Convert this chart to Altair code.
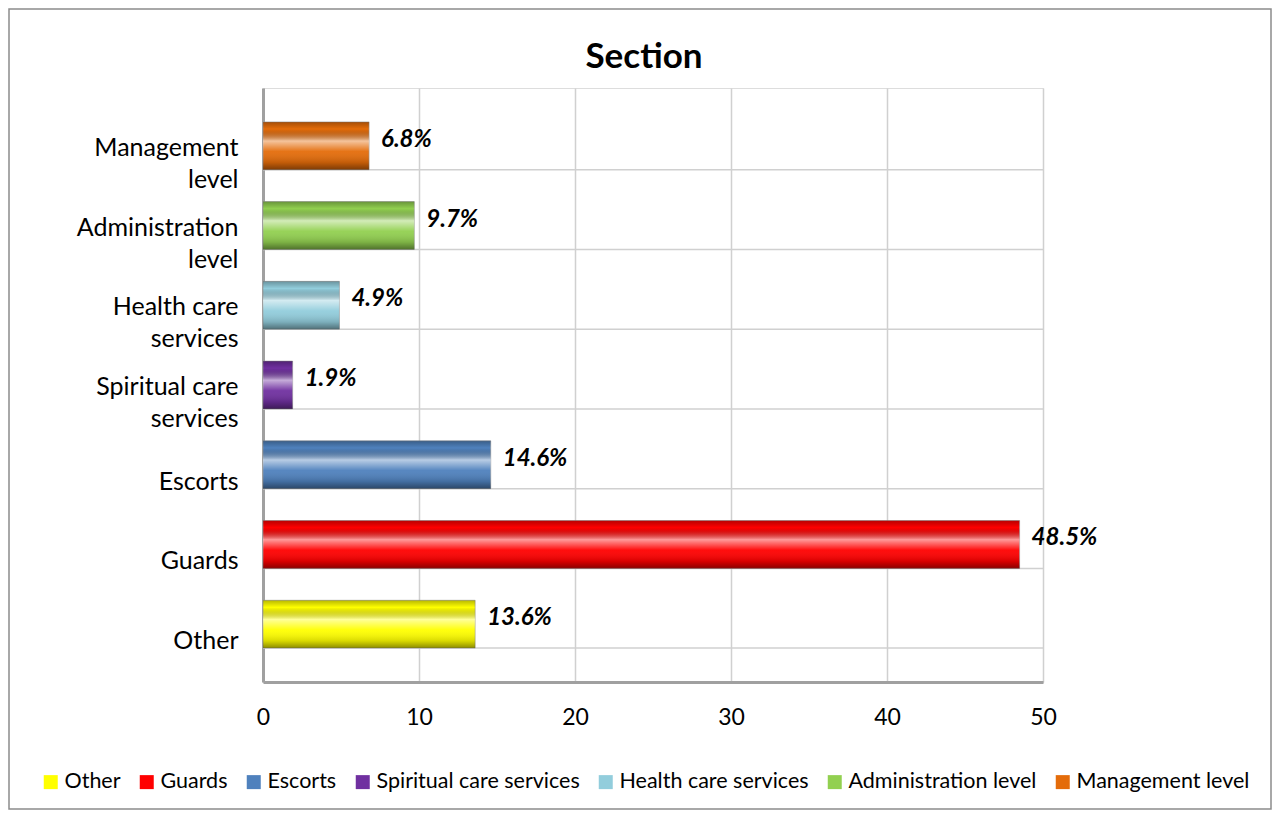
import altair as alt
import pandas as pd

# ---- data ----
categories = ["Management level", "Administration level", "Health care services",
              "Spiritual care services", "Escorts", "Guards", "Other"]
axis_lines = [["Management", "level"], ["Administration", "level"], ["Health care", "services"],
              ["Spiritual care", "services"], ["Escorts"], ["Guards"], ["Other"]]
values = [6.8, 9.7, 4.9, 1.9, 14.6, 48.5, 13.6]
legend_order = ["Other", "Guards", "Escorts", "Spiritual care services",
                "Health care services", "Administration level", "Management level"]
legend_colors = ["#ffff00", "#ff0000", "#4f81bd", "#7030a0", "#92cddc", "#92d050", "#e46c0a"]
x_ticks = [0, 10, 20, 30, 40, 50]

df = pd.DataFrame({"Section": categories, "Value": values})
df["Label"] = [f"{v:.1f}%" for v in values]

W, H = 780, 594
FONT = "Lato"

# label expression for two-line y labels
parts = []
multi = []
for c, lines in zip(categories, axis_lines):
    arr = "[" + ",".join(f"'{l}'" for l in lines) + "]"
    parts.append(f"datum.value == '{c}' ? {arr} : ")
    if len(lines) > 1:
        multi.append(f"datum.value == '{c}'")
label_expr = "".join(parts) + "datum.value"
multi_test = " || ".join(multi)

y_enc = alt.Y("Section:N", sort=categories,
              scale=alt.Scale(paddingInner=0.4, paddingOuter=0.425),
              axis=alt.Axis(title=None, labelExpr=label_expr, labelFontSize=25,
                            labelLineHeight=32,
                            labelOffset={"condition": {"test": multi_test, "value": 2},
                                         "value": 17},
                            labelPadding=25,
                            ticks=False, tickSize=0, grid=False, domainColor="#a0a0a0",
                            domainWidth=3, labelColor="#000000", labelFont=FONT,
                            labelLimit=300))
x_enc = alt.X("Value:Q", scale=alt.Scale(domain=[0, 50], nice=False),
              axis=alt.Axis(title=None, values=x_ticks, labelFontSize=23, ticks=False,
                            tickSize=0, labelPadding=24, labelFlush=False, grid=True,
                            gridColor="#d0d0d0", gridWidth=1.5, domainColor="#a0a0a0",
                            domainWidth=3, labelColor="#000000", labelFont=FONT))

base = alt.Chart(df)

hgrid = base.mark_rule(color="#d0d0d0", strokeWidth=1.5).encode(
    y=alt.Y("Section:N", sort=categories, bandPosition=1),
    x=alt.value(0), x2=alt.value(W))

bars = base.mark_bar(stroke="#9a9a9a", strokeWidth=0.6).encode(
    x=x_enc, y=y_enc,
    color=alt.Color("Section:N",
                    scale=alt.Scale(domain=legend_order, range=legend_colors),
                    legend=alt.Legend(title=None, orient="none", direction="horizontal",
                                      legendX=-223, legendY=683, symbolType="square",
                                      symbolSize=196, symbolStrokeWidth=0,
                                      labelFontSize=21.5, labelFont=FONT, labelColor="#000000",
                                      columnPadding=15, labelOffset=3, columns=7,
                                      labelLimit=400)))

shade = base.mark_bar(fill=alt.Gradient(
    gradient="linear", x1=0, x2=0, y1=0, y2=1,
    stops=[alt.GradientStop(color="rgba(0,0,0,0.28)", offset=0),
           alt.GradientStop(color="rgba(0,0,0,0.0)", offset=0.15),
           alt.GradientStop(color="rgba(255,255,255,0.6)", offset=0.4),
           alt.GradientStop(color="rgba(255,255,255,0.05)", offset=0.62),
           alt.GradientStop(color="rgba(0,0,0,0.15)", offset=0.85),
           alt.GradientStop(color="rgba(0,0,0,0.45)", offset=1)])).encode(
    x="Value:Q", y=alt.Y("Section:N", sort=categories))

labels = base.mark_text(align="left", baseline="middle", dx=12, dy=-6, fontSize=24,
                        fontWeight="bold", fontStyle="italic", font=FONT,
                        color="#000000").encode(
    x="Value:Q", y=alt.Y("Section:N", sort=categories), text="Label:N")

frame = alt.Chart(alt.Data(values=[{}])).mark_rect(
    fill=None, stroke="#8c8c8c", strokeWidth=1.5).encode(
    x=alt.value(-254), x2=alt.value(1008), y=alt.value(-79), y2=alt.value(721))

chart = alt.layer(hgrid, bars, shade, labels, frame).properties(
    width=W, height=H,
    title=alt.TitleParams("Section", fontSize=35, fontWeight="bold", font=FONT,
                          color="#000000", anchor="middle", offset=-67, dx=-9),
    autosize=alt.AutoSizeParams(type="none"),
    padding={"left": 255, "top": 80, "right": 229, "bottom": 128},
).configure_view(stroke="#d0d0d0", strokeWidth=1.5).configure(background="white")

chart.save("out.html", embed_options={"renderer": "svg", "actions": False})
